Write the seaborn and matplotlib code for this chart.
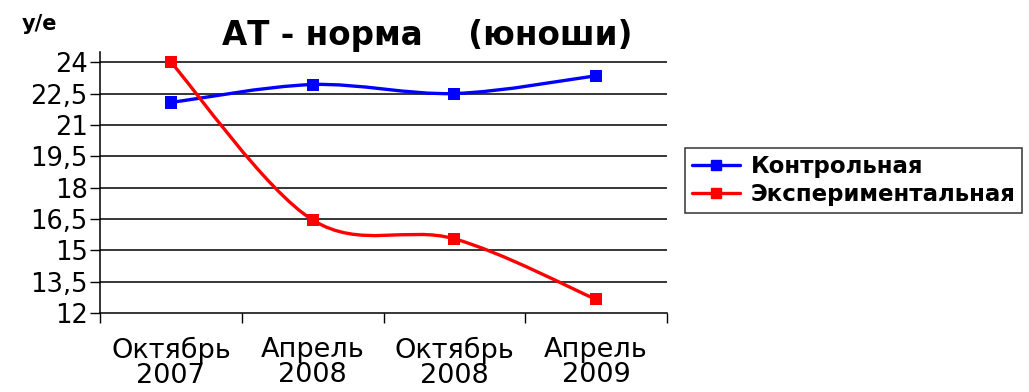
import matplotlib
matplotlib.use("Agg")
import matplotlib.pyplot as plt
import numpy as np
import pandas as pd
import seaborn as sns
from matplotlib.lines import Line2D
from matplotlib.path import Path
from matplotlib.patches import PathPatch

# data
periods = ["Октябрь\n2007", "Апрель\n2008", "Октябрь\n2008", "Апрель\n2009"]
control = [22.07, 22.93, 22.5, 23.35]
experimental = [24.0, 16.45, 15.55, 12.65]
series_names = ["Контрольная", "Экспериментальная"]
series_colors = ["#0000ff", "#ff0000"]
y_ticks = [12, 13.5, 15, 16.5, 18, 19.5, 21, 22.5, 24]

sns.set_style("white")
# wide face: the reference text is horizontally stretched Arial
plt.rcParams["font.family"] = ["DejaVu Sans"]
plt.rcParams["text.color"] = "black"
plt.rcParams["xtick.color"] = "black"
plt.rcParams["ytick.color"] = "black"
plt.rcParams["axes.labelcolor"] = "black"


def smooth_path(xs, ys):
    # Excel-style smoothed line: cubic Bezier segments (Catmull-Rom control points)
    pts = np.column_stack([xs, ys]).astype(float)
    n = len(pts)
    verts = [pts[0]]
    codes = [Path.MOVETO]
    for i in range(n - 1):
        p0 = pts[max(i - 1, 0)]
        p1 = pts[i]
        p2 = pts[i + 1]
        p3 = pts[min(i + 2, n - 1)]
        c1 = p1 + (p2 - p0) / 6.0
        c2 = p2 - (p3 - p1) / 6.0
        verts += [c1, c2, p2]
        codes += [Path.CURVE4] * 3
    return Path(verts, codes)


df = pd.DataFrame({
    "x": list(range(len(periods))) * 2,
    "value": control + experimental,
    "series": [series_names[0]] * len(periods) + [series_names[1]] * len(periods),
})

fig = plt.figure(figsize=(10.29, 3.92), dpi=100)
ax = fig.add_axes([0.0972, 0.2015, 0.5510, 0.6655])

for name, color in zip(series_names, series_colors):
    sub = df[df["series"] == name]
    patch = PathPatch(smooth_path(sub["x"], sub["value"]), facecolor="none",
                      edgecolor=color, lw=2.4, zorder=3)
    ax.add_patch(patch)

sns.scatterplot(data=df, x="x", y="value", hue="series", palette=series_colors,
                marker="s", s=75, edgecolor="none", legend=False, ax=ax, zorder=4)

ax.set_xlim(-0.5, len(periods) - 0.5)
ax.set_ylim(12, 24.48)
ax.set_yticks(y_ticks)
ax.set_yticklabels([f"{t:g}".replace(".", ",") for t in y_ticks], fontsize=18.5)
ax.set_xticks(range(len(periods)))
ax.set_xticklabels(periods, fontsize=19.5, linespacing=0.98)
ax.set_xticks(np.arange(-0.5, len(periods), 1), minor=True)
ax.tick_params(axis="x", which="major", length=0, pad=17)
ax.tick_params(axis="x", which="minor", length=7, width=1, direction="out", color="black", bottom=True)
ax.tick_params(axis="y", length=7, width=1, direction="out", color="black", left=True, pad=2)
ax.set_xlabel("")
ax.set_ylabel("")

for t in y_ticks[1:]:
    ax.axhline(t, color="black", lw=1.1, zorder=1)

for side in ["top", "right"]:
    ax.spines[side].set_visible(False)
for side in ["left", "bottom"]:
    ax.spines[side].set_color("black")
    ax.spines[side].set_linewidth(1.1)

fig.text(0.415, 0.91, "АТ - норма    (юноши)", fontsize=23.5, fontweight="bold",
         ha="center", va="center")
fig.text(0.021, 0.94, "у/е", fontsize=15, fontweight="bold", ha="left", va="center")

handles = [Line2D([0], [0], color=c, lw=2.4, marker="s", markersize=7) for c in series_colors]
leg = fig.legend(handles, series_names, loc="upper left", bbox_to_anchor=(0.666, 0.623),
                 frameon=True, fancybox=False, edgecolor="black", handlelength=2.1,
                 handletextpad=0.45, borderpad=0.3, labelspacing=0.25, borderaxespad=0,
                 prop={"size": 16.5, "weight": "bold"})
leg.get_frame().set_linewidth(1.1)

fig.savefig("out.png", dpi=100)
